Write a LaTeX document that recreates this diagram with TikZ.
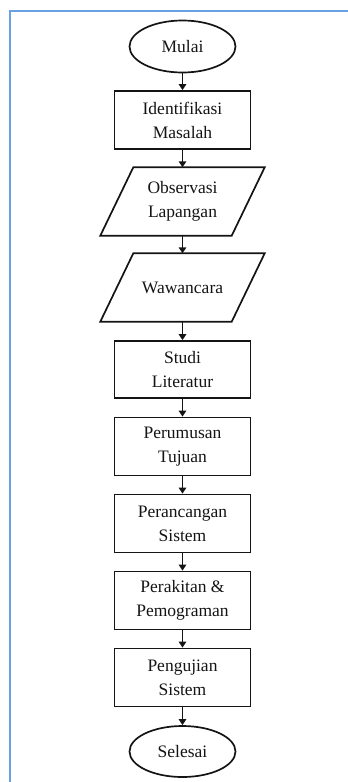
\documentclass[tikz,border=0pt]{standalone}
\usepackage{fontspec}
\setmainfont{Liberation Serif}[Ligatures=NoCommon]
\usetikzlibrary{shapes.geometric,arrows.meta}
\definecolor{frameblue}{RGB}{105,162,226}
\definecolor{ink}{RGB}{20,20,20}
\tikzset{
  x=1pt,y=-1pt,
  every node/.style={font=\fontsize{17.5}{24}\selectfont, text=ink, align=center, inner sep=0pt},
  procbox/.style={draw=ink, line width=1.7pt, rectangle, minimum width=136pt, minimum height=58pt},
  termbox/.style={draw=ink, line width=1.7pt, ellipse, minimum width=106pt, minimum height=52pt},
  iobox/.style={rectangle, minimum width=164pt, minimum height=68pt},
  flowarrow/.style={draw=ink, line width=1.5pt, -{Triangle[length=6pt,width=7.5pt]}},
  para/.style={draw=ink, line width=1.7pt, line join=miter}
}
\begin{document}
\begin{tikzpicture}
\useasboundingbox (0,0) rectangle (348,782);
\draw[frameblue, line width=2pt] (9.5,782) -- (9.5,10.5) -- (348,10.5);

\node[termbox] (mulai) at (182.5,46.5) {Mulai};
\node[procbox] (ident) at (182.5,120) {Identifikasi\\Masalah};
\node[iobox] (obs) at (182.5,201.5) {Observasi\\Lapangan};
\node[iobox] (waw) at (182.5,287.5) {Wawancara};
\node[procbox, minimum height=57pt] (studi) at (182.5,369.5) {Studi\\Literatur};
\node[procbox] (rumus) at (182.5,446.5) {Perumusan\\Tujuan};
\node[procbox] (rancang) at (182.5,523.5) {Perancangan\\Sistem};
\node[procbox] (rakit) at (182.5,600.5) {Perakitan \&\\Pemograman};
\node[procbox] (uji) at (182.5,677.5) {Pengujian\\Sistem};
\node[termbox, minimum height=51pt] (selesai) at (182.5,751.5) {Selesai};

\foreach \n in {obs,waw}{
  \draw[para] ([xshift=33pt]\n.north west) -- (\n.north east) -- ([xshift=-33pt]\n.south east) -- (\n.south west) -- cycle;
}

\draw[flowarrow] (mulai) -- (ident);
\draw[flowarrow] (ident) -- (obs);
\draw[flowarrow] (obs) -- (waw);
\draw[flowarrow] (waw) -- (studi);
\draw[flowarrow] (studi) -- (rumus);
\draw[flowarrow] (rumus) -- (rancang);
\draw[flowarrow] (rancang) -- (rakit);
\draw[flowarrow] (rakit) -- (uji);
\draw[flowarrow] (uji) -- (selesai);
\end{tikzpicture}
\end{document}
